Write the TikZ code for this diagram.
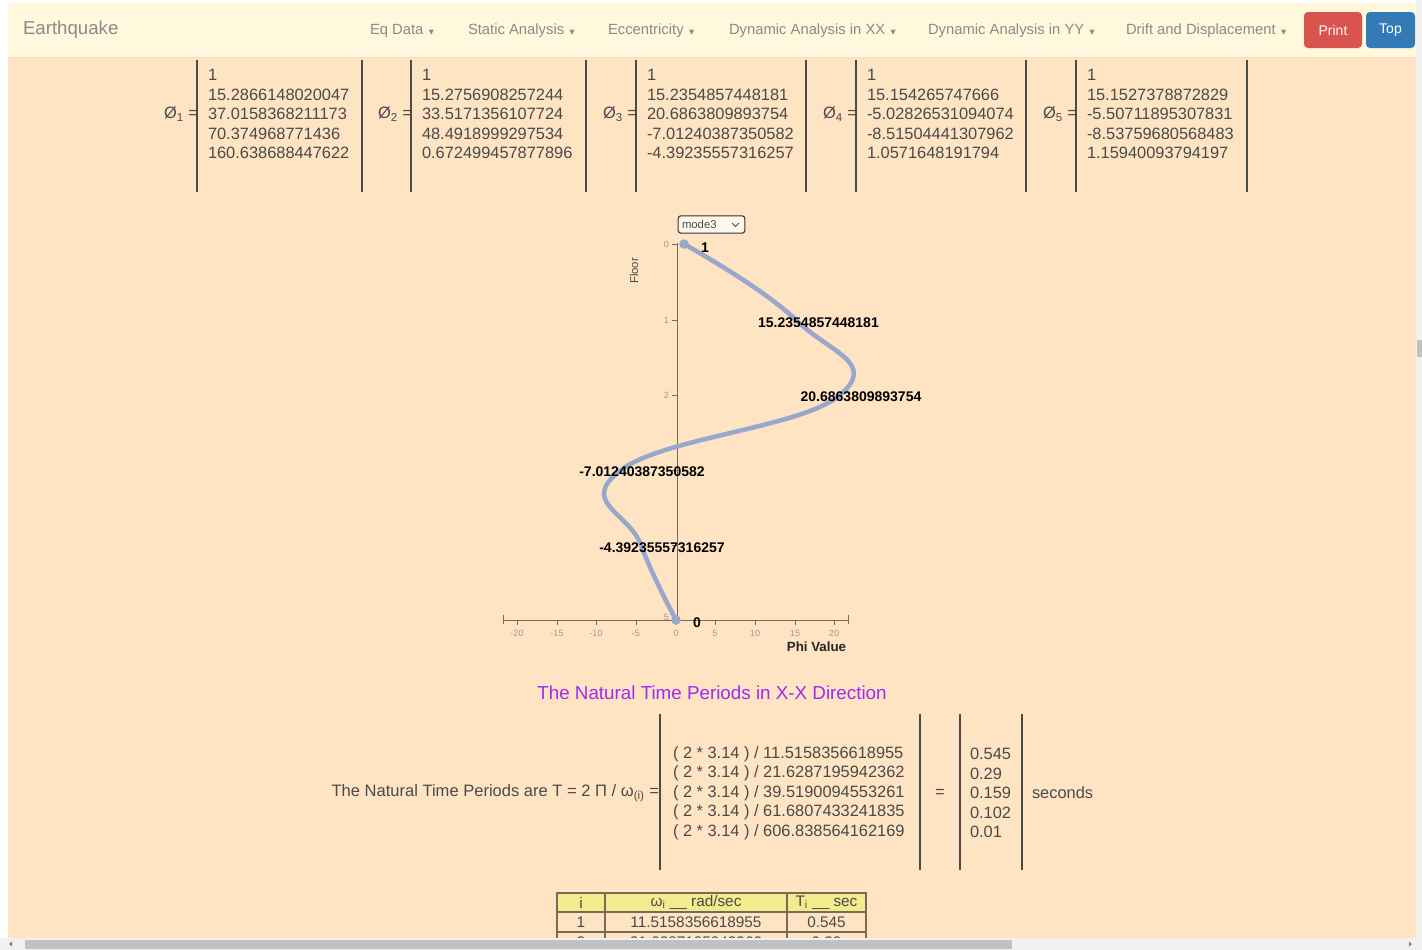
\documentclass[tikz,border=0pt]{standalone}
\usepackage{fontspec}
\setmainfont{Liberation Sans}
\newfontfamily\djv{DejaVu Sans}
\definecolor{pagebg}{HTML}{FFE4C4}
\definecolor{navbg}{HTML}{FFF8DC}
\definecolor{navline}{HTML}{EEDFC0}
\definecolor{navtxt}{HTML}{8A8A8A}
\definecolor{printred}{HTML}{D9534F}
\definecolor{topblue}{HTML}{337AB7}
\definecolor{txt}{HTML}{4A4A4A}
\definecolor{curvec}{HTML}{98A7CC}
\definecolor{titlec}{HTML}{9D2BF0}
\definecolor{hdr}{HTML}{F2EC8F}
\definecolor{sbtrack}{HTML}{F1F1F1}
\definecolor{sbthumb}{HTML}{C1C1C1}
\definecolor{axisc}{HTML}{7A6A55}
\newcommand\caret{\hspace{4pt}{\djv\fontsize{5}{5}\selectfont ▼}}
\begin{document}
\begin{tikzpicture}[x=0.75pt,y=-0.75pt,
  every node/.style={inner sep=0pt, outer sep=0pt},
  navitem/.style={text=navtxt, font=\fontsize{11.1}{12}\selectfont, anchor=west},
  btn/.style={text=white, rounded corners=3pt, minimum height=27pt, font=\fontsize{10.5}{12}\selectfont},
  phil/.style={text=txt, font=\fontsize{12.3}{14.6}\selectfont, anchor=east},
  mat/.style={text=txt, font=\fontsize{12.3}{14.6}\selectfont, align=left, anchor=west},
  bar/.style={draw=txt, line width=1.1pt},
  axis/.style={draw=axisc, line width=0.6pt},
  tickl/.style={text=gray!80, font=\fontsize{6.8}{7}\selectfont},
  dlab/.style={text=black, font=\bfseries\fontsize{10.5}{12}\selectfont},
  curve/.style={draw=curvec, line width=3.4pt, line cap=round},
  tcell/.style={text=txt, font=\fontsize{11.5}{13}\selectfont}
]
\useasboundingbox (0,0) rectangle (1422,950);
\fill[white] (0,0) rectangle (1422,950);
\fill[pagebg] (8,57) rectangle (1416,938);
\fill[navbg] (8,3) rectangle (1416,57);
\draw[navline] (8,57) -- (1416,57);

% navbar
\node[text=navtxt, font=\fontsize{14}{15}\selectfont, anchor=west] (brand) at (23,30) {Earthquake};
\node[navitem] (n1) at (370,31) {Eq Data\caret};
\node[navitem] (n2) at (468,31) {Static Analysis\caret};
\node[navitem] (n3) at (608,31) {Eccentricity\caret};
\node[navitem] (n4) at (729,31) {Dynamic Analysis in XX\caret};
\node[navitem] (n5) at (928,31) {Dynamic Analysis in YY\caret};
\node[navitem] (n6) at (1126,31) {Drift and Displacement\caret};
\node[btn, fill=printred, minimum width=43.5pt] (print) at (1333,30) {Print};
\node[btn, fill=topblue, minimum width=36.75pt] (top) at (1390.5,30) {Top};

% mode shape vectors
\node[phil] (p1) at (198,114) {Ø\textsubscript{1} =};
\draw[bar] (197,60) -- (197,192); \draw[bar] (362,60) -- (362,192);
\node[mat] (m1) at (208,114) {1\\15.2866148020047\\37.0158368211173\\70.374968771436\\160.638688447622};
\node[phil] (p2) at (412,114) {Ø\textsubscript{2} =};
\draw[bar] (411,60) -- (411,192); \draw[bar] (586,60) -- (586,192);
\node[mat] (m2) at (422,114) {1\\15.2756908257244\\33.5171356107724\\48.4918999297534\\0.672499457877896};
\node[phil] (p3) at (637,114) {Ø\textsubscript{3} =};
\draw[bar] (636,60) -- (636,192); \draw[bar] (806,60) -- (806,192);
\node[mat] (m3) at (647,114) {1\\15.2354857448181\\20.6863809893754\\-7.01240387350582\\-4.39235557316257};
\node[phil] (p4) at (857,114) {Ø\textsubscript{4} =};
\draw[bar] (856,60) -- (856,192); \draw[bar] (1026,60) -- (1026,192);
\node[mat] (m4) at (867,114) {1\\15.154265747666\\-5.02826531094074\\-8.51504441307962\\1.0571648191794};
\node[phil] (p5) at (1077,114) {Ø\textsubscript{5} =};
\draw[bar] (1076,60) -- (1076,192); \draw[bar] (1247,60) -- (1247,192);
\node[mat] (m5) at (1087,114) {1\\15.1527378872829\\-5.50711895307831\\-8.53759680568483\\1.15940093794197};

% select box
\node[draw=black!80, line width=0.8pt, rounded corners=2pt, fill=white!70!pagebg, minimum width=50pt, minimum height=13pt] (sel) at (711.5,224.5) {};
\node[text=txt, font=\fontsize{8.5}{10}\selectfont, anchor=west] (seltxt) at (682,224.5) {mode3};
\draw[txt, line width=0.6pt] (732,223) -- (735.5,226.5) -- (739,223);

% chart axes
\draw[axis] (677,243) -- (677,620);
\draw[axis] (503,620) -- (848,620);
\draw[axis] (503,615) -- (503,624);
\draw[axis] (848,615) -- (848,624);
\foreach \v/\xx in {-20/517,-15/557,-10/596,-5/636,0/676,5/715,10/755,15/795,20/834}{
  \draw[axis] (\xx,620) -- (\xx,625);
  \node[tickl] at (\xx,633) {\v};
}
\foreach \yy in {244,320,395,470,545,620}{ \draw[axis] (672,\yy) -- (677,\yy); }
\node[tickl, anchor=east] (f0) at (669,244) {0};
\node[tickl, anchor=east] (f1) at (669,320) {1};
\node[tickl, anchor=east] (f2) at (669,395) {2};
\node[tickl, anchor=east] (f5) at (669,617) {5};
\node[text=txt, font=\fontsize{8.5}{10}\selectfont, rotate=90] (floor) at (634,271) {Floor};
\node[text=black!85, font=\bfseries\fontsize{10}{12}\selectfont] (phiv) at (816.5,647) {Phi Value};

% curve
\draw[curve] plot[smooth, tension=0.78] coordinates {(684,244) (796,320) (840,395) (621,470) (641,545) (676,620)};
\fill[curvec] (684,244) circle[radius=3.6pt];
\fill[curvec] (676,620) circle[radius=3.6pt];
\node[dlab] (d0) at (705,248) {1};
\node[dlab] (d1) at (818.5,323) {15.2354857448181};
\node[dlab] (d2) at (861,397) {20.6863809893754};
\node[dlab] (d3) at (642,472) {-7.01240387350582};
\node[dlab] (d4) at (662,548) {-4.39235557316257};
\node[dlab] (d5) at (697,623) {0};

% title
\node[text=titlec, font=\fontsize{14.1}{16}\selectfont] (title) at (712,693) {The Natural Time Periods in X-X Direction};

% formula
\node[text=txt, font=\fontsize{12.4}{14.6}\selectfont, anchor=east] (ftxt) at (659,793) {The Natural Time Periods are T = 2 Π / ω\textsubscript{(i)} =};
\draw[bar] (660,714) -- (660,870); \draw[bar] (920,714) -- (920,870);
\node[mat] (fl) at (673,793) {( 2 * 3.14 ) / 11.5158356618955\\( 2 * 3.14 ) / 21.6287195942362\\( 2 * 3.14 ) / 39.5190094553261\\( 2 * 3.14 ) / 61.6807433241835\\( 2 * 3.14 ) / 606.838564162169};
\node[text=txt, font=\fontsize{12.3}{14.6}\selectfont] (eq) at (940,793) {=};
\draw[bar] (960,714) -- (960,870); \draw[bar] (1022,714) -- (1022,870);
\node[mat] (fv) at (970,793) {0.545\\0.29\\0.159\\0.102\\0.01};
\node[text=txt, font=\fontsize{12.3}{14.6}\selectfont, anchor=west] (sec) at (1032,793) {seconds};

% table
\begin{scope}
\clip (0,0) rectangle (1422,938);
\fill[hdr] (557,893) rectangle (866,912);
\draw[axisc, line width=0.8pt] (557,893) rectangle (866,952);
\draw[axisc, line width=0.8pt] (557,912) -- (866,912) (557,932) -- (866,932);
\draw[axisc, line width=0.8pt] (605,893) -- (605,952) (787,893) -- (787,952);
\node[tcell] (h1) at (581,902.5) {i};
\node[tcell] (h2) at (696,902.5) {ω\textsubscript{i} \_\_ rad/sec};
\node[tcell] (h3) at (826.5,902.5) {T\textsubscript{i} \_\_ sec};
\node[tcell] (r1) at (581,922) {1};
\node[tcell] (r2) at (696,922) {11.5158356618955};
\node[tcell] (r3) at (826.5,922) {0.545};
\node[tcell] (s1) at (581,942) {2};
\node[tcell] (s2) at (696,942) {21.6287195942362};
\node[tcell] (s3) at (826.5,942) {0.29};
\end{scope}

% scrollbars
\fill[sbtrack] (0,938) rectangle (1422,950);
\fill[sbthumb] (25,940) rectangle (1012,949);
\fill[gray] (9,944) -- (12,941.5) -- (12,946.5) -- cycle;
\fill[gray] (1412,944) -- (1409,941.5) -- (1409,946.5) -- cycle;
\fill[sbtrack] (1416,0) rectangle (1422,938);
\fill[sbthumb] (1417,340) rectangle (1422,357);
\end{tikzpicture}
\end{document}
